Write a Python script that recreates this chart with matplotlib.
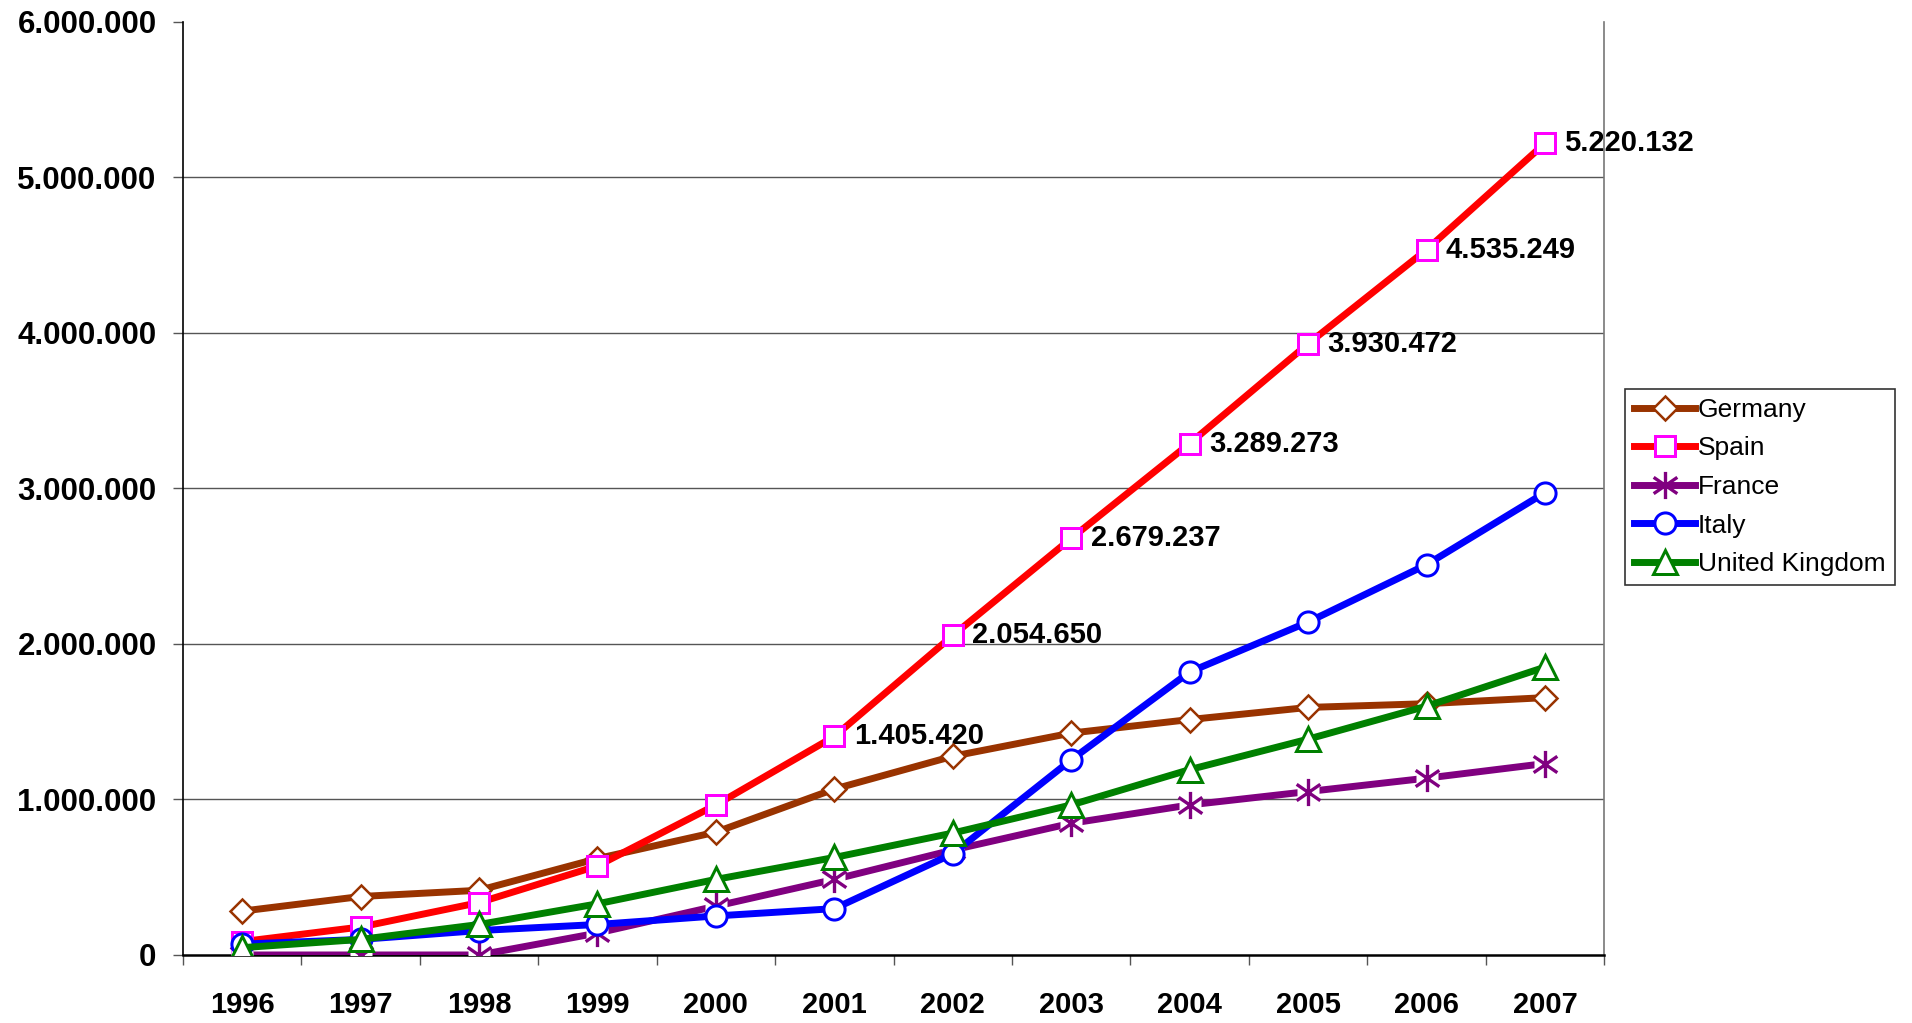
import matplotlib
matplotlib.use("Agg")
import matplotlib.pyplot as plt
from matplotlib.path import Path
from matplotlib.ticker import FuncFormatter, FixedLocator
from matplotlib.lines import Line2D
import numpy as np

years = ["1996", "1997", "1998", "1999", "2000", "2001", "2002", "2003", "2004", "2005", "2006", "2007"]
germany = [282000, 376000, 416000, 620000, 790000, 1067000, 1278000, 1427000, 1514000, 1592000, 1616000, 1655000]
spain = [86000, 180000, 337000, 573000, 965000, 1405420, 2054650, 2679237, 3289273, 3930472, 4535249, 5220132]
france = [0, 0, 0, 141000, 314000, 486000, 675000, 847000, 965000, 1051000, 1137000, 1231000]
italy = [70000, 100000, 157000, 196000, 251000, 298000, 651000, 1255000, 1820000, 2141000, 2510000, 2973000]
uk = [47000, 100000, 196000, 329000, 486000, 627000, 784000, 965000, 1192000, 1388000, 1600000, 1851000]
y_ticks = [0, 1000000, 2000000, 3000000, 4000000, 5000000, 6000000]
spain_label_from = 5

plt.rcParams['font.family'] = ['Liberation Sans', 'DejaVu Sans']

fig = plt.figure(figsize=(19.12, 10.23), dpi=100)
ax = fig.add_axes([0.0957, 0.0665, 0.7433, 0.912])
x = np.arange(len(years))

# Excel-like star marker (X with vertical bar)
star = Path([(0, -1), (0, 1), (-0.87, -0.6), (0.87, 0.6), (-0.87, 0.6), (0.87, -0.6)],
            [Path.MOVETO, Path.LINETO, Path.MOVETO, Path.LINETO, Path.MOVETO, Path.LINETO])

lw = 5.0
ms = 14.5
mew = 1.8

for yv in y_ticks[1:-1]:
    ax.axhline(yv, color='#555555', lw=1.0, zorder=1)

h_de, = ax.plot(x, germany, color='#993300', lw=lw, marker='D', ms=ms * 0.85, mfc='white',
                mec='#993300', mew=mew, label='Germany', zorder=3)
h_es, = ax.plot(x, spain, color='#FF0000', lw=lw, marker='s', ms=ms, mfc='white',
                mec='#FF00FF', mew=mew * 1.2, label='Spain', zorder=3)
ax.plot(x, france, color='#800080', lw=lw, zorder=3)
ax.plot(x, france, ls='none', marker='s', ms=ms * 1.05, mfc='white', mec='none', zorder=3)
h_fr, = ax.plot(x, france, ls='none', marker=star, ms=ms * 1.35, mfc='none',
                mec='#800080', mew=2.4, label='France', zorder=3)
h_it, = ax.plot(x, italy, color='#0000FF', lw=lw, marker='o', ms=ms * 1.05, mfc='white',
                mec='#0000FF', mew=mew * 1.2, label='Italy', zorder=3)
h_uk, = ax.plot(x, uk, color='#008000', lw=lw, marker='^', ms=ms * 1.15, mfc='white',
                mec='#008000', mew=mew * 1.2, label='United Kingdom', zorder=3)

def fmt(v, pos=None):
    return f"{int(v):,}".replace(",", ".")

for i in range(spain_label_from, len(years)):
    ax.annotate(fmt(spain[i]), (x[i], spain[i]), xytext=(14, 0), textcoords='offset points',
                ha='left', va='center', fontsize=21, fontweight='bold', color='black',
                zorder=2.4, annotation_clip=False)

ax.set_xlim(-0.5, len(years) - 0.5)
ax.set_ylim(y_ticks[0], y_ticks[-1])
ax.set_yticks(y_ticks)
ax.yaxis.set_major_formatter(FuncFormatter(fmt))
ax.set_xticks(x)
ax.set_xticklabels(years)
ax.xaxis.set_minor_locator(FixedLocator(np.arange(-0.5, len(years), 1.0)))

ax.tick_params(axis='x', which='major', length=0, pad=26, labelsize=21)
ax.tick_params(axis='x', which='minor', length=7, width=1, color='#555555', direction='out')
ax.tick_params(axis='y', which='major', length=7, width=1, color='#555555', direction='out',
               pad=12, labelsize=22.5)
for lab in ax.get_xticklabels() + ax.get_yticklabels():
    lab.set_fontweight('bold')

ax.spines['top'].set_visible(False)
ax.spines['right'].set_color('#777777')
ax.spines['right'].set_linewidth(1.2)
ax.spines['left'].set_color('black')
ax.spines['left'].set_linewidth(1.2)
ax.spines['bottom'].set_color('black')
ax.spines['bottom'].set_linewidth(1.8)

# legend handles: France with line
fr_leg = Line2D([], [], color='#800080', lw=lw, marker=star, ms=ms * 1.35, mfc='none',
                mec='#800080', mew=2.4)
leg = fig.legend([h_de, h_es, fr_leg, h_it, h_uk],
                 ['Germany', 'Spain', 'France', 'Italy', 'United Kingdom'],
                 loc='upper left', bbox_to_anchor=(0.85, 0.62), fontsize=19,
                 frameon=True, fancybox=False, edgecolor='black', borderaxespad=0,
                 handlelength=2.3, handletextpad=0.1, labelspacing=0.55,
                 borderpad=0.35, numpoints=1)
leg.get_frame().set_linewidth(1.2)

fig.savefig("out.png", dpi=100, facecolor='white')
